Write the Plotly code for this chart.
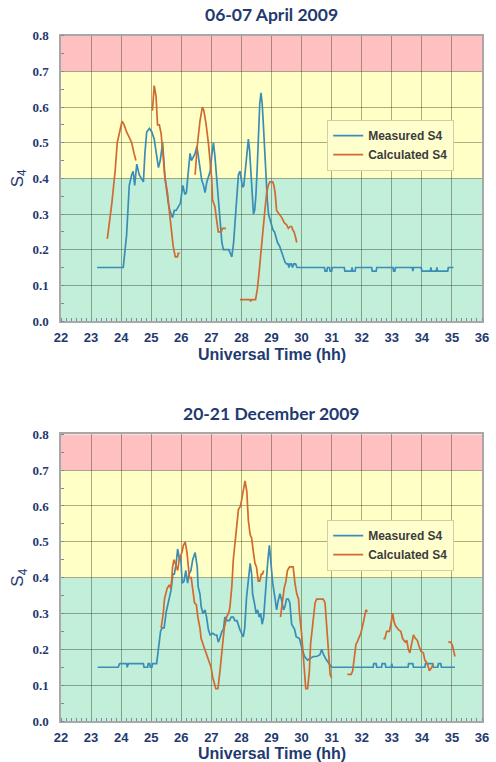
import plotly.graph_objects as go

# ---------------- 06-07 April 2009 ----------------
april_meas_t = [23.20, 24.07, 24.18, 24.27, 24.35, 24.40, 24.45, 24.52, 24.60, 24.68, 24.74, 24.79,
                24.85, 24.94, 25.02, 25.10, 25.18, 25.24, 25.30, 25.38, 25.46, 25.52, 25.57, 25.62,
                25.71, 25.77, 25.83, 25.90, 25.97, 26.05, 26.12, 26.17, 26.23, 26.29, 26.34, 26.40,
                26.46, 26.52, 26.58, 26.63, 26.68, 26.74, 26.79, 26.85, 26.90, 26.96, 27.02, 27.07,
                27.12, 27.16, 27.22, 27.29, 27.35, 27.40, 27.50, 27.58, 27.63, 27.68, 27.74, 27.80,
                27.84, 27.90, 27.95, 28.00, 28.04, 28.08, 28.12, 28.18, 28.23, 28.27, 28.31, 28.36,
                28.40, 28.44, 28.48, 28.52, 28.56, 28.61, 28.65, 28.69, 28.73, 28.78, 28.82, 28.86,
                28.90, 28.95, 29.00, 29.05, 29.10, 29.14, 29.20, 29.27, 29.34, 29.40, 29.45, 29.50,
                29.55, 29.58, 29.62, 29.66, 29.70, 29.74, 29.80, 29.85, 29.90, 30.76, 30.78, 30.84,
                30.86, 30.93, 30.95, 31.00, 31.02, 31.42, 31.44, 31.66, 31.68, 31.70, 31.78, 31.80,
                32.33, 32.35, 32.48, 32.50, 33.04, 33.06, 33.10, 33.12, 33.68, 33.70, 33.72, 33.98,
                34.00, 34.28, 34.30, 34.32, 34.48, 34.50, 34.52, 34.86, 34.88, 35.05]
april_meas_s4 = [0.15, 0.15, 0.24, 0.38, 0.41, 0.42, 0.38, 0.44, 0.41, 0.40, 0.39, 0.47,
                 0.53, 0.54, 0.53, 0.51, 0.47, 0.43, 0.45, 0.50, 0.40, 0.36, 0.33, 0.31,
                 0.29, 0.31, 0.31, 0.32, 0.33, 0.38, 0.355, 0.36, 0.42, 0.47, 0.45, 0.46,
                 0.47, 0.49, 0.45, 0.42, 0.395, 0.38, 0.36, 0.39, 0.405, 0.42, 0.47, 0.50,
                 0.46, 0.42, 0.35, 0.275, 0.22, 0.20, 0.20, 0.20, 0.19, 0.18, 0.22, 0.30,
                 0.35, 0.41, 0.42, 0.40, 0.375, 0.38, 0.42, 0.48, 0.51, 0.48, 0.43, 0.36,
                 0.30, 0.31, 0.35, 0.42, 0.53, 0.61, 0.64, 0.61, 0.55, 0.46, 0.39, 0.34,
                 0.30, 0.285, 0.27, 0.255, 0.25, 0.235, 0.22, 0.21, 0.19, 0.175, 0.165, 0.16,
                 0.16, 0.15, 0.16, 0.16, 0.15, 0.16, 0.16, 0.15, 0.15, 0.15, 0.14, 0.14,
                 0.15, 0.15, 0.14, 0.14, 0.15, 0.15, 0.14, 0.14, 0.15, 0.14, 0.14, 0.15,
                 0.15, 0.14, 0.14, 0.15, 0.15, 0.14, 0.14, 0.15, 0.15, 0.14, 0.15, 0.15,
                 0.14, 0.14, 0.15, 0.14, 0.14, 0.15, 0.14, 0.14, 0.15, 0.15]

# None marks the gaps between computed intervals
april_calc_t = [23.54, 23.62, 23.69, 23.75, 23.80, 23.87, 23.96, 24.03, 24.10, 24.18, 24.27, 24.35,
                24.43, 24.49, None,
                25.04, 25.10, 25.16, 25.21, 25.27, 25.33, 25.40, 25.45, 25.50, 25.54, 25.60, 25.66,
                25.73, 25.80, 25.87, 25.90, 25.95, None,
                26.46, 26.53, 26.62, 26.70, 26.75, 26.82, 26.90, 26.96, 27.01, 27.04, 27.08, 27.12,
                27.18, 27.23, 27.33, 27.37, 27.49, None,
                27.95, 28.28, 28.31, 28.34, 28.47, 28.53, 28.58, 28.65, 28.73, 28.78, 28.84, 28.89,
                28.95, 29.04, 29.08, 29.12, 29.17, 29.26, 29.34, 29.40, 29.43, 29.50, 29.56, 29.62,
                29.67, 29.71, 29.75, 29.80, 29.84]
april_calc_s4 = [0.23, 0.28, 0.33, 0.38, 0.42, 0.50, 0.54, 0.56, 0.55, 0.53, 0.515, 0.50,
                 0.47, 0.45, None,
                 0.59, 0.66, 0.63, 0.55, 0.55, 0.525, 0.46, 0.405, 0.38, 0.36, 0.31, 0.255,
                 0.21, 0.18, 0.18, 0.19, 0.19, None,
                 0.41, 0.49, 0.56, 0.60, 0.59, 0.555, 0.50, 0.45, 0.40, 0.34, 0.33, 0.32,
                 0.28, 0.25, 0.25, 0.26, 0.26, None,
                 0.06, 0.06, 0.055, 0.06, 0.06, 0.09, 0.13, 0.20, 0.265, 0.31, 0.36, 0.38,
                 0.39, 0.39, 0.38, 0.36, 0.31, 0.30, 0.29, 0.28, 0.275, 0.27, 0.26, 0.265,
                 0.265, 0.255, 0.25, 0.235, 0.22]

# ---------------- 20-21 December 2009 ----------------
dec_meas_t = [23.22, 23.90, 23.95, 24.18, 24.20, 24.24, 24.74, 24.76, 24.88, 24.90, 24.95, 24.97,
              25.02, 25.05, 25.18, 25.24, 25.31, 25.36, 25.43, 25.50, 25.58, 25.66, 25.72, 25.77,
              25.83, 25.88, 25.94, 25.98, 26.03, 26.09, 26.15, 26.21, 26.26, 26.32, 26.38, 26.46,
              26.53, 26.56, 26.62, 26.66, 26.72, 26.79, 26.84, 26.90, 26.96, 27.05, 27.12, 27.18,
              27.23, 27.28, 27.35, 27.40, 27.45, 27.53, 27.60, 27.66, 27.73, 27.78, 27.85, 27.90,
              27.95, 28.06, 28.11, 28.17, 28.23, 28.29, 28.34, 28.37, 28.43, 28.49, 28.54, 28.59,
              28.64, 28.69, 28.74, 28.80, 28.88, 28.93, 28.98, 29.04, 29.12, 29.17, 29.22, 29.28,
              29.33, 29.40, 29.45, 29.50, 29.56, 29.61, 29.67, 29.72, 29.77, 29.82, 29.93, 30.02,
              30.10, 30.20, 30.30, 30.39, 30.50, 30.61, 30.67, 30.73, 30.83, 30.93, 31.00, 32.38,
              32.40, 32.48, 32.50, 32.66, 32.68, 32.78, 32.80, 32.98, 33.00, 33.02, 33.54, 33.56,
              33.70, 33.72, 34.10, 34.12, 34.36, 34.38, 34.53, 34.55, 34.63, 34.65, 35.10]
dec_meas_s4 = [0.15, 0.15, 0.16, 0.16, 0.15, 0.16, 0.16, 0.15, 0.15, 0.16, 0.16, 0.15,
               0.15, 0.16, 0.16, 0.20, 0.25, 0.26, 0.26, 0.305, 0.34, 0.365, 0.41, 0.41,
               0.44, 0.48, 0.45, 0.46, 0.385, 0.39, 0.42, 0.385, 0.41, 0.42, 0.45, 0.47,
               0.43, 0.375, 0.355, 0.32, 0.30, 0.31, 0.29, 0.255, 0.24, 0.245, 0.24, 0.24,
               0.22, 0.23, 0.25, 0.255, 0.29, 0.28, 0.28, 0.29, 0.29, 0.28, 0.28, 0.265,
               0.255, 0.235, 0.26, 0.345, 0.39, 0.44, 0.41, 0.355, 0.33, 0.30, 0.31, 0.29,
               0.30, 0.27, 0.29, 0.365, 0.45, 0.49, 0.44, 0.385, 0.34, 0.31, 0.335, 0.355,
               0.34, 0.31, 0.32, 0.34, 0.34, 0.33, 0.27, 0.26, 0.255, 0.235, 0.23, 0.20,
               0.18, 0.17, 0.175, 0.18, 0.18, 0.185, 0.20, 0.185, 0.17, 0.16, 0.15, 0.15,
               0.16, 0.16, 0.15, 0.15, 0.16, 0.16, 0.15, 0.15, 0.16, 0.15, 0.15, 0.16,
               0.16, 0.15, 0.15, 0.16, 0.16, 0.15, 0.15, 0.16, 0.16, 0.15, 0.15]

dec_calc_t = [25.33, 25.40, 25.44, 25.53, 25.60, 25.65, 25.68, 25.71, 25.76, 25.83, 25.88, 25.93,
              25.97, 26.02, 26.07, 26.13, 26.19, 26.24, 26.27, 26.33, 26.38, 26.44, 26.50, 26.55,
              26.62, 26.66, 26.74, 26.83, 26.90, 26.99, 27.05, 27.10, 27.15, 27.22, 27.27, 27.30,
              27.37, 27.43, 27.51, 27.59, 27.62, 27.68, 27.73, 27.79, 27.84, 27.90, 27.97, 28.04,
              28.12, 28.18, 28.23, 28.29, 28.34, 28.40, 28.45, 28.50, 28.56, 28.61, 28.66, 28.70,
              28.74, None,
              29.30, 29.36, 29.42, 29.48, 29.53, 29.60, 29.72, 29.78, 29.84, 29.90, 29.93, 30.00,
              30.05, 30.10, 30.14, 30.20, 30.26, 30.30, 30.39, 30.45, 30.50, 30.72, 30.78, 30.84,
              30.90, 30.95, 31.00, None,
              31.52, 31.65, 31.70, 31.75, 31.81, 31.85, 31.90, 31.97, 32.03, 32.09, 32.14, 32.19,
              None,
              32.72, 32.77, 32.83, 32.92, 32.97, 33.03, 33.08, 33.13, 33.22, 33.30, 33.36, 33.45,
              33.50, 33.55, 33.60, 33.66, 33.72, 33.79, 33.85, 33.90, 33.97, 34.05, 34.10, 34.18,
              34.25, 34.33, 34.38, None,
              34.88, 34.96, 35.02, 35.10]
dec_calc_s4 = [0.26, 0.30, 0.34, 0.37, 0.38, 0.37, 0.39, 0.43, 0.45, 0.43, 0.42, 0.45,
               0.46, 0.47, 0.49, 0.50, 0.47, 0.42, 0.40, 0.40, 0.36, 0.33, 0.325, 0.29,
               0.26, 0.23, 0.21, 0.19, 0.175, 0.15, 0.12, 0.10, 0.09, 0.09, 0.12, 0.15,
               0.21, 0.26, 0.29, 0.305, 0.32, 0.375, 0.45, 0.505, 0.54, 0.59, 0.60, 0.63,
               0.67, 0.64, 0.56, 0.52, 0.51, 0.47, 0.44, 0.43, 0.39, 0.39, 0.41, 0.41,
               0.42, None,
               0.29, 0.34, 0.37, 0.39, 0.42, 0.43, 0.43, 0.385, 0.355, 0.34, 0.30, 0.245,
               0.18, 0.115, 0.09, 0.09, 0.14, 0.215, 0.28, 0.33, 0.34, 0.34, 0.33, 0.255,
               0.18, 0.13, 0.12, None,
               0.13, 0.13, 0.14, 0.18, 0.215, 0.22, 0.23, 0.245, 0.265, 0.285, 0.31, 0.305,
               None,
               0.23, 0.23, 0.25, 0.25, 0.27, 0.30, 0.275, 0.265, 0.255, 0.25, 0.23, 0.22,
               0.225, 0.20, 0.19, 0.215, 0.24, 0.23, 0.225, 0.21, 0.195, 0.19, 0.17, 0.16,
               0.14, 0.15, 0.16, None,
               0.22, 0.22, 0.21, 0.18]

x_ticks = list(range(22, 37))
y_ticks = [0.0, 0.1, 0.2, 0.3, 0.4, 0.5, 0.6, 0.7, 0.8]

# S4 scintillation levels: weak / moderate / strong
bands = [(0.0, 0.4, "#C2EFDA"), (0.4, 0.7, "#FFFFC6"), (0.7, 0.8, "#FFC0C2")]

W, H = 496, 762
NAVY = "#1F3A70"
MEAS_COLOR = "#3A8DB6"
CALC_COLOR = "#D2692E"

PX_L, PX_R = 61, 482
panels = [
    dict(title="06-07 April 2009", top=35.7, bottom=321, title_y=15, xt_y=354,
         t_m=april_meas_t, s_m=april_meas_s4, t_c=april_calc_t, s_c=april_calc_s4,
         leg_y=120),
    dict(title="20-21 December 2009", top=434.3, bottom=721, title_y=413, xt_y=753,
         t_m=dec_meas_t, s_m=dec_meas_s4, t_c=dec_calc_t, s_c=dec_calc_s4,
         leg_y=520),
]

fig = go.Figure()
annotations = []
shapes = []

for i, p in enumerate(panels, start=1):
    sfx = "" if i == 1 else str(i)
    xa, ya = "x" + sfx, "y" + sfx
    leg = "legend" + sfx

    fig.add_trace(go.Scatter(x=p["t_m"], y=p["s_m"], mode="lines", name="Measured S4",
                             line=dict(color=MEAS_COLOR, width=1.7), xaxis=xa, yaxis=ya,
                             legend=leg, connectgaps=False))
    fig.add_trace(go.Scatter(x=p["t_c"], y=p["s_c"], mode="lines", name="Calculated S4",
                             line=dict(color=CALC_COLOR, width=1.7), xaxis=xa, yaxis=ya,
                             legend=leg, connectgaps=False))

    for lo, hi, col in bands:
        shapes.append(dict(type="rect", xref=xa + " domain", yref=ya, x0=0, x1=1, y0=lo, y1=hi,
                           fillcolor=col, line=dict(width=0), layer="below"))

    dom_y = [1 - p["bottom"] / H, 1 - p["top"] / H]
    axis_common = dict(showline=True, linecolor="#A8A8A8", linewidth=1.5, mirror=True,
                       showgrid=True, gridcolor="rgba(40,50,20,0.40)", gridwidth=1.4,
                       zeroline=False, ticks="outside", tickcolor="rgba(0,0,0,0)",
                       automargin=False)
    fig.update_layout(**{
        "xaxis" + sfx: dict(axis_common, domain=[PX_L / W, PX_R / W], anchor=ya, range=[22, 36],
                            ticklen=4, tickvals=x_ticks, ticktext=[str(v) for v in x_ticks],
                            tickfont=dict(family="Liberation Sans", size=13, color=NAVY,
                                          weight="bold"),
                            minor=dict(ticks="inside", ticklen=3, tickcolor="#7D8AA0",
                                       tick0=22, dtick=1 / 6, showgrid=False)),
        "yaxis" + sfx: dict(axis_common, domain=dom_y, anchor=xa, range=[0, 0.8],
                            ticklen=8, tickvals=y_ticks, ticktext=[f"{v:.1f}" for v in y_ticks],
                            tickfont=dict(family="Liberation Serif", size=13, color=NAVY,
                                          weight="bold"),
                            minor=dict(ticks="inside", ticklen=3, tickcolor="#7D8AA0",
                                       tick0=0, dtick=0.05, showgrid=False)),
        leg: dict(x=327 / W, y=1 - p["leg_y"] / H, xanchor="left", yanchor="top",
                  bgcolor="#FFFFCE", bordercolor="#CFCFA8", borderwidth=1.2,
                  font=dict(family="Liberation Sans", size=12, color="#3C3C3C", weight="bold"),
                  itemwidth=30, tracegroupgap=0),
    })

    annotations.append(dict(text=f"<b>{p['title']}</b>", x=(PX_L + PX_R) / 2 / W,
                            y=1 - p["title_y"] / H, xref="paper", yref="paper",
                            xanchor="center", yanchor="middle", showarrow=False,
                            font=dict(family="Lato", size=17.5, color=NAVY)))
    annotations.append(dict(text="<b>Universal Time (hh)</b>", x=(PX_L + PX_R) / 2 / W,
                            y=1 - p["xt_y"] / H, xref="paper", yref="paper",
                            xanchor="center", yanchor="middle", showarrow=False,
                            font=dict(family="Liberation Sans", size=16, color=NAVY)))
    annotations.append(dict(text="S<sub>4</sub>", x=19 / W,
                            y=1 - (p["top"] + p["bottom"]) / 2 / H, xref="paper", yref="paper",
                            xanchor="center", yanchor="middle", showarrow=False, textangle=-90,
                            font=dict(family="Liberation Sans", size=17, color=NAVY)))

fig.update_layout(width=W, height=H, margin=dict(l=0, r=0, t=0, b=0, autoexpand=False),
                  paper_bgcolor="white", plot_bgcolor="white",
                  showlegend=True, shapes=shapes, annotations=annotations)

fig.write_html("out.html")
